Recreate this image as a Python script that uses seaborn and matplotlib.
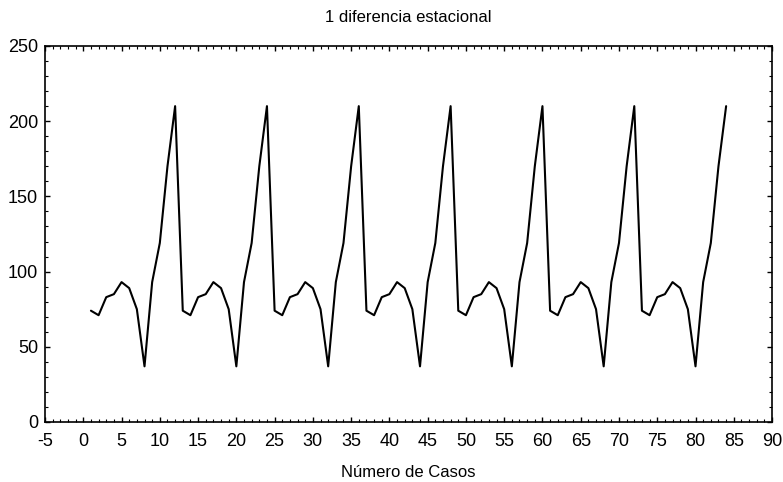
import numpy as np
import pandas as pd
import matplotlib
matplotlib.use("Agg")
import matplotlib.pyplot as plt
import matplotlib.ticker as mtick
import seaborn as sns

# one seasonal cycle (12 cases), repeated over 7 years
cycle = [74, 71, 83, 85, 93, 89, 75, 37, 93, 119, 170, 210]
n_cycles = 7
casos = list(range(1, 12 * n_cycles + 1))
valores = cycle * n_cycles

df = pd.DataFrame({"caso": casos, "valor": valores})

sns.set_style("ticks")
plt.rcParams["font.family"] = ["Liberation Sans", "DejaVu Sans"]
plt.rcParams["axes.unicode_minus"] = False
plt.rcParams["text.color"] = "black"
plt.rcParams["axes.labelcolor"] = "black"
plt.rcParams["xtick.color"] = "black"
plt.rcParams["ytick.color"] = "black"

fig, ax = plt.subplots(figsize=(7.83, 4.82), dpi=100)
fig.subplots_adjust(left=0.0575, right=0.986, bottom=0.1245, top=0.9046)

sns.lineplot(data=df, x="caso", y="valor", ax=ax, color="black", linewidth=1.5)

ax.set_xlim(-5, 90)
ax.set_ylim(0, 250)
ax.xaxis.set_major_locator(mtick.MultipleLocator(5))
ax.xaxis.set_minor_locator(mtick.MultipleLocator(1))
ax.yaxis.set_major_locator(mtick.MultipleLocator(50))
ax.yaxis.set_minor_locator(mtick.MultipleLocator(10))
ax.tick_params(which="both", direction="in", top=True, right=True,
               labelsize=13, color="black", labelcolor="black")
ax.tick_params(axis="x", pad=8)
ax.tick_params(axis="y", pad=5)
ax.tick_params(which="major", length=3.5, width=1)
ax.tick_params(which="minor", length=2, width=0.8)
for s in ax.spines.values():
    s.set_color("black")
    s.set_linewidth(1.2)

ax.set_title("1 diferencia estacional", fontsize=12, pad=17, color="black")
ax.set_xlabel("Número de Casos", fontsize=12, labelpad=11, color="black")
ax.set_ylabel("")

fig.savefig("out.png", dpi=100)
